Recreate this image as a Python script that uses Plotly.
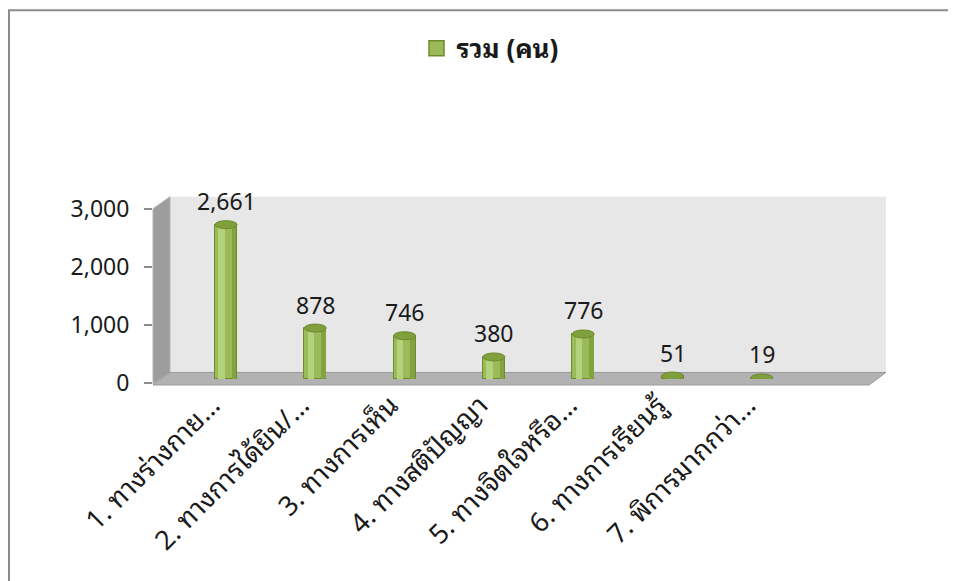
import plotly.graph_objects as go

categories = ["1. ทางร่างกาย…", "2. ทางการได้ยิน/…", "3. ทางการเห็น", "4. ทางสติปัญญา",
              "5. ทางจิตใจหรือ…", "6. ทางการเรียนรู้", "7. พิการมากกว่า…"]
values = [2661, 878, 746, 380, 776, 51, 19]
series_name = "รวม (คน)"
y_ticks = [0, 1000, 2000, 3000]
y_tick_labels = ["0", "1,000", "2,000", "3,000"]

FONT = "Noto Sans Thai Looped, Loma, Garuda, Tlwg Typo, Noto Sans Thai, Noto Sans, Open Sans, sans-serif"
W_FIG, H_FIG = 956, 581
OFF = 8  # page body margin
L, R, T, B = 153, 869, 209.3, 383.0  # plot area in screen pixels
PW, PH = R - L, B - T


def px(x):
    return (x - L) / PW


def py(y):
    return (B - y) / PH


def poly(pts):
    return "M " + " L ".join(f"{px(a):.5f},{py(b):.5f}" for a, b in pts) + " Z"


idx = list(range(len(categories)))
BW = 0.246

fig = go.Figure()
fig.add_trace(go.Scatter(x=idx, y=values, xaxis="x", yaxis="y", mode="markers",
                         marker=dict(opacity=0), showlegend=False, hoverinfo="skip"))
fig.add_trace(go.Bar(x=idx, y=values, name=series_name, xaxis="x", yaxis="y2", showlegend=False,
                     legendgroup="s", width=BW,
                     marker=dict(color="#9bbb59", line=dict(color="#6e8b2c", width=1))))
fig.add_trace(go.Bar(x=idx, y=values, xaxis="x", yaxis="y2", showlegend=False, hoverinfo="skip",
                     width=0.07, offset=-0.085, marker=dict(color="#b3d27c", line=dict(width=0))))
fig.add_trace(go.Bar(x=idx, y=values, xaxis="x", yaxis="y2", showlegend=False, hoverinfo="skip",
                     width=0.05, offset=0.065, marker=dict(color="#83a340", line=dict(width=0))))
# legend entry (larger square swatch)
fig.add_trace(go.Scatter(x=[None], y=[None], xaxis="x", yaxis="y2", mode="markers",
                         name="<b>" + series_name + "</b>", legendgroup="s",
                         marker=dict(symbol="square", size=15, color="#9bbb59",
                                     line=dict(color="#6e8b2c", width=1.5))))

shapes = []
shapes.append(dict(type="path", xref="paper", yref="paper", layer="below",
                   path=poly([(170, 197), (886, 197), (886, 372.5), (170, 372.5)]),
                   fillcolor="#e7e7e7", line=dict(width=0)))
shapes.append(dict(type="path", xref="paper", yref="paper", layer="below",
                   path=poly([(153, 209), (170, 197), (170, 372.5), (153, 384)]),
                   fillcolor="#9d9d9d", line=dict(color="#b5b5b5", width=1)))
shapes.append(dict(type="path", xref="paper", yref="paper", layer="below",
                   path=poly([(153, 385), (170, 372.5), (886, 372.5), (869, 385)]),
                   fillcolor="#b2b2b2", line=dict(color="#9a9a9a", width=1)))
shapes.append(dict(type="rect", xref="paper", yref="paper", layer="above",
                   x0=px(9), y0=py(11), x1=px(1000), y1=py(640),
                   line=dict(color="#8c8c8c", width=2), fillcolor="rgba(0,0,0,0)"))

for i, v in zip(idx, values):
    shapes.append(dict(type="circle", xref="x", yref="y2", layer="below",
                       x0=i - BW / 2, x1=i + BW / 2, ysizemode="pixel", yanchor=0, y0=-4, y1=4,
                       fillcolor="#86a846", line=dict(color="#6e8b2c", width=1)))
    shapes.append(dict(type="circle", xref="x", yref="y2", layer="above",
                       x0=i - BW / 2, x1=i + BW / 2, ysizemode="pixel", yanchor=v, y0=-4, y1=4,
                       fillcolor="#7fa03c", line=dict(color="#6e8b2c", width=1)))

annotations = [dict(x=i, y=v, xref="x", yref="y2", text=f"{v:,}", showarrow=False,
                    yshift=25, font=dict(size=23, color="#1a1a1a"))
               for i, v in zip(idx, values)]

fig.update_layout(
    width=W_FIG, height=H_FIG,
    margin=dict(l=L - OFF, r=W_FIG - (R - OFF), t=T - OFF, b=H_FIG - (B - OFF), pad=0),
    paper_bgcolor="white", plot_bgcolor="rgba(0,0,0,0)",
    barmode="overlay", bargap=0,
    font=dict(family=FONT, size=23, color="#1a1a1a"),
    xaxis=dict(range=[-0.8175, 7.2], tickvals=idx, ticktext=categories, tickangle=-45,
               showgrid=False, zeroline=False, showline=False, ticks="",
               tickfont=dict(size=27), ticklabelshift=-14, fixedrange=True),
    yaxis=dict(range=[0, 3000], domain=[0, 1], tickvals=y_ticks, ticktext=y_tick_labels,
               showgrid=False, zeroline=False, showline=False, ticks="outside", ticklen=8,
               tickwidth=2, tickcolor="#8c8c8c", ticklabelstandoff=10, tickfont=dict(size=23)),
    yaxis2=dict(range=[0, 2931], domain=[0.023, 1], anchor="x", visible=False),
    legend=dict(orientation="h", x=px(490), xanchor="center", y=py(49), yanchor="middle",
                font=dict(size=26), bgcolor="rgba(0,0,0,0)", itemsizing="trace"),
    shapes=shapes, annotations=annotations, showlegend=True,
)

fig.write_html("out.html")
